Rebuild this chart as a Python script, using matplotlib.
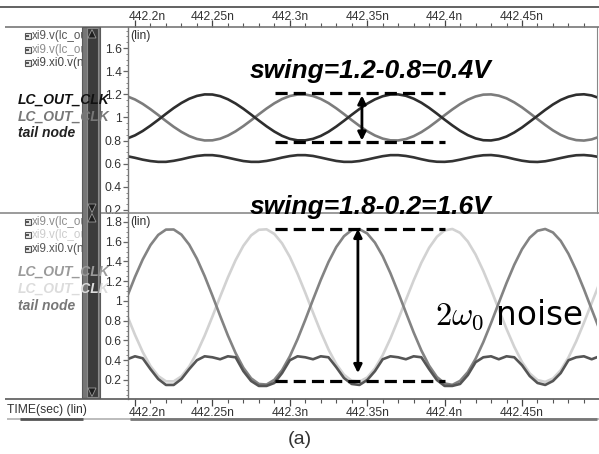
import numpy as np
import matplotlib
matplotlib.use("Agg")
import matplotlib.pyplot as plt
from matplotlib.patches import Rectangle, Polygon
from matplotlib.ticker import FixedLocator
from matplotlib.transforms import ScaledTranslation

plt.rcParams['font.family'] = ['Liberation Sans', 'DejaVu Sans']
plt.rcParams['mathtext.fontset'] = 'cm'

W, H, DPI = 599, 454, 100
PT = 72.0 / DPI  # points per pixel

# ---------------- data ----------------
TIME_NS = [round(442.195 + 0.005 * k, 3) for k in range(62)]

TOP_CLK_P = [0.818, 0.845, 0.883, 0.929, 0.979, 1.031, 1.081, 1.125, 1.161, 1.186,
             1.199, 1.198, 1.184, 1.157, 1.120, 1.075, 1.025, 0.973, 0.923, 0.878,
             0.841, 0.815, 0.802, 0.802, 0.815, 0.840, 0.876, 0.921, 0.971, 1.023,
             1.073, 1.119, 1.156, 1.183, 1.198, 1.199, 1.187, 1.162, 1.127, 1.083,
             1.033, 0.981, 0.931, 0.885, 0.847, 0.819, 0.803, 0.801, 0.812, 0.835,
             0.870, 0.913, 0.963, 1.014, 1.065, 1.112, 1.151, 1.179, 1.196, 1.200,
             1.190, 1.167]
TOP_CLK_N = [1.182, 1.155, 1.117, 1.071, 1.021, 0.969, 0.919, 0.875, 0.839, 0.814,
             0.801, 0.802, 0.816, 0.843, 0.880, 0.925, 0.975, 1.027, 1.077, 1.122,
             1.159, 1.185, 1.198, 1.198, 1.185, 1.160, 1.124, 1.079, 1.029, 0.977,
             0.927, 0.881, 0.844, 0.817, 0.802, 0.801, 0.813, 0.838, 0.873, 0.917,
             0.967, 1.019, 1.069, 1.115, 1.153, 1.181, 1.197, 1.199, 1.188, 1.165,
             1.130, 1.087, 1.037, 0.986, 0.935, 0.888, 0.849, 0.821, 0.804, 0.800,
             0.810, 0.833]
TOP_TAIL = [0.665, 0.651, 0.635, 0.623, 0.616, 0.616, 0.625, 0.638, 0.654, 0.667,
            0.674, 0.674, 0.666, 0.652, 0.637, 0.623, 0.616, 0.616, 0.624, 0.637,
            0.653, 0.666, 0.674, 0.674, 0.667, 0.653, 0.638, 0.624, 0.616, 0.616,
            0.623, 0.636, 0.651, 0.665, 0.674, 0.674, 0.667, 0.655, 0.639, 0.625,
            0.617, 0.616, 0.622, 0.635, 0.650, 0.664, 0.673, 0.675, 0.668, 0.656,
            0.640, 0.626, 0.617, 0.615, 0.621, 0.634, 0.649, 0.663, 0.673, 0.675,
            0.669, 0.657]

BOT_CLK_P = [1.047, 1.244, 1.421, 1.566, 1.669, 1.723, 1.724, 1.672, 1.571, 1.428,
             1.252, 1.055, 0.850, 0.651, 0.472, 0.324, 0.217, 0.160, 0.154, 0.202,
             0.299, 0.439, 0.613, 0.809, 1.014, 1.213, 1.395, 1.546, 1.656, 1.718,
             1.727, 1.684, 1.591, 1.454, 1.282, 1.087, 0.883, 0.682, 0.499, 0.345,
             0.231, 0.165, 0.151, 0.191, 0.280, 0.414, 0.583, 0.776, 0.981, 1.182,
             1.367, 1.524, 1.641, 1.711, 1.729, 1.694, 1.609, 1.478, 1.311, 1.120,
             0.916, 0.714]
BOT_CLK_N = [0.850, 0.657, 0.483, 0.341, 0.240, 0.187, 0.186, 0.237, 0.336, 0.476,
             0.649, 0.842, 1.043, 1.238, 1.414, 1.559, 1.664, 1.721, 1.726, 1.679,
             1.584, 1.447, 1.276, 1.084, 0.883, 0.687, 0.509, 0.361, 0.253, 0.192,
             0.183, 0.225, 0.317, 0.451, 0.620, 0.811, 1.011, 1.208, 1.388, 1.539,
             1.650, 1.715, 1.729, 1.690, 1.602, 1.471, 1.305, 1.116, 0.915, 0.717,
             0.536, 0.382, 0.267, 0.199, 0.181, 0.215, 0.299, 0.427, 0.591, 0.779,
             0.979, 1.177]
BOT_TAIL = [0.41, 0.44, 0.42, 0.31, 0.21, 0.15, 0.15, 0.21, 0.31, 0.40,
            0.44, 0.43, 0.41, 0.44, 0.43, 0.29, 0.19, 0.14, 0.14, 0.17,
            0.27, 0.40, 0.44, 0.43, 0.41, 0.44, 0.43, 0.33, 0.22, 0.16,
            0.15, 0.20, 0.29, 0.41, 0.44, 0.43, 0.41, 0.44, 0.43, 0.31,
            0.20, 0.14, 0.14, 0.16, 0.25, 0.38, 0.43, 0.44, 0.41, 0.44,
            0.43, 0.35, 0.24, 0.17, 0.15, 0.19, 0.27, 0.40, 0.43, 0.44,
            0.41, 0.44]

X_TICKS = [442.2, 442.25, 442.3, 442.35, 442.4, 442.45]
X_TICK_LABELS = ['442.2n', '442.25n', '442.3n', '442.35n', '442.4n', '442.45n']
TOP_Y_TICKS = [0.2, 0.4, 0.6, 0.8, 1.0, 1.2, 1.4, 1.6]
TOP_Y_LABELS = ['0.2', '0.4', '0.6', '0.8', '1', '1.2', '1.4', '1.6']
BOT_Y_TICKS = [0.2, 0.4, 0.6, 0.8, 1.0, 1.2, 1.4, 1.6, 1.8]
BOT_Y_LABELS = ['0.2', '0.4', '0.6', '0.8', '1', '1.2', '1.4', '1.6', '1.8']

TOP_SWING = (1.215, 0.79)
BOT_SWING = (1.73, 0.185)
SWING_SPAN_NS = (442.2904, 442.4003)

SIGNAL_NAMES = ['xi9.v(lc_ou', 'xi9.v(lc_ou', 'xi9.xi0.v(n']
LABELS = ['LC_OUT_CLK', 'LC_OUT_CLK', 'tail node']

# ---------------- figure ----------------
fig = plt.figure(figsize=(W / DPI, H / DPI), dpi=DPI)
fig.patch.set_facecolor('white')


def fr(x0, y0, x1, y1):
    return [x0 / W, 1 - y1 / H, (x1 - x0) / W, (y1 - y0) / H]


ax_top = fig.add_axes(fr(128, 27, 597, 213))
ax_bot = fig.add_axes(fr(128, 213, 597, 399))

XLIM = (442.19548, 442.49845)

for ax, yl, yt, ytl in [(ax_top, (0.174, 1.7815), TOP_Y_TICKS, TOP_Y_LABELS),
                        (ax_bot, (0.0076, 1.891), BOT_Y_TICKS, BOT_Y_LABELS)]:
    ax.set_xlim(*XLIM)
    ax.set_ylim(*yl)
    ax.xaxis.set_major_locator(FixedLocator(X_TICKS))
    ax.set_xticklabels(X_TICK_LABELS)
    ax.xaxis.set_minor_locator(FixedLocator(
        [442.2 + 0.01 * i for i in range(-1, 31)]))
    ax.yaxis.set_major_locator(FixedLocator(yt))
    ax.set_yticklabels(ytl)
    ax.yaxis.set_minor_locator(FixedLocator(
        [0.05 * i for i in range(0, 40)]))
    for s in ax.spines.values():
        s.set_visible(False)
    ax.spines['left'].set_visible(True)
    ax.spines['left'].set_color('#777777')
    ax.spines['left'].set_linewidth(1.0)
    ax.tick_params(axis='y', which='major', direction='out', length=5 * PT,
                   width=0.9, color='#666666', labelsize=8.7,
                   labelcolor='#333333', pad=1.5 * PT)
    ax.tick_params(axis='y', which='minor', direction='out', length=2.5 * PT,
                   width=0.7, color='#888888')
    ax.tick_params(axis='x', which='major', direction='out', length=7 * PT,
                   width=0.9, color='#444444', labelsize=8.7,
                   labelcolor='#333333', pad=1 * PT)
    ax.tick_params(axis='x', which='minor', direction='out', length=4 * PT,
                   width=0.8, color='#555555')

ax_top.xaxis.tick_top()
ax_top.xaxis.set_tick_params(which='both', top=True, bottom=False,
                             labeltop=True, labelbottom=False)
ax_top.spines['right'].set_visible(True)
ax_top.spines['right'].set_color('#888888')
ax_bot.xaxis.tick_bottom()

# first time label is clamped inside the plot by the viewer; top labels sit
# slightly lower, touching the major ticks
for ax, dy in ((ax_top, -4), (ax_bot, 0)):
    for i, lab in enumerate(ax.get_xticklabels()):
        dx = 12 if i == 0 else 0
        lab.set_transform(lab.get_transform() +
                          ScaledTranslation(dx / DPI, dy / DPI,
                                            fig.dpi_scale_trans))

# traces
LW = 1.9
ax_top.plot(TIME_NS, TOP_CLK_N, color='#7c7c7c', lw=LW, solid_joinstyle='round')
ax_top.plot(TIME_NS, TOP_CLK_P, color='#2e2e2e', lw=LW, solid_joinstyle='round')
ax_top.plot(TIME_NS, TOP_TAIL, color='#333333', lw=LW, solid_joinstyle='round')

ax_bot.plot(TIME_NS, BOT_CLK_N, color='#d2d2d2', lw=LW, solid_joinstyle='round')
ax_bot.plot(TIME_NS, BOT_CLK_P, color='#838383', lw=LW, solid_joinstyle='round')
ax_bot.plot(TIME_NS, BOT_TAIL, color='#555555', lw=LW, solid_joinstyle='round')

# swing markers
for ax, (hi, lo), t_arrow, a_hi, a_lo in [
        (ax_top, TOP_SWING, 442.3466, 1.19, 0.80),
        (ax_bot, BOT_SWING, 442.3440, 1.73, 0.27)]:
    for yv in (hi, lo):
        ax.plot(SWING_SPAN_NS, [yv, yv], color='black', lw=2.3,
                linestyle=(0, (3.8, 1.9)), clip_on=False, zorder=4)
    ax.annotate('', xy=(t_arrow, a_hi), xytext=(t_arrow, a_lo),
                arrowprops=dict(arrowstyle='<|-|>', lw=2.0, color='black',
                                mutation_scale=12, shrinkA=0, shrinkB=0),
                zorder=5)

# ---------------- overlay (viewer chrome, pixel coordinates) ----------------
ov = fig.add_axes([0, 0, 1, 1], zorder=5)
ov.set_xlim(0, W)
ov.set_ylim(H, 0)
ov.axis('off')
ov.patch.set_visible(False)


def hline(x0, x1, y, c, lw, z=2):
    ov.plot([x0, x1], [y, y], color=c, lw=lw, solid_capstyle='butt', zorder=z)


hline(0, 599, 6.5, '#555555', 1.3)
hline(5, 599, 26.5, '#777777', 1.2)
hline(0, 599, 213, '#8a8a8a', 1.2)
hline(5, 599, 398.5, '#666666', 1.3)
hline(7, 599, 418.5, '#b0b0b0', 1.2)
hline(20, 83, 418.8, '#555555', 2.0)
hline(130, 597, 418.8, '#777777', 2.0)

# small signal-name rows
name_rows = [(36, '#555555'), (50, '#8c8c8c'), (63, '#444444'),
             (222, '#8c8c8c'), (235, '#cccccc'), (249, '#555555')]
for i, (yy, c) in enumerate(name_rows):
    ov.add_patch(Rectangle((24.5, yy - 3), 6, 6, facecolor='#e6e6e6',
                           edgecolor='#555555', lw=0.8, zorder=3))
    ov.add_patch(Rectangle((26.3, yy - 1.2), 2.4, 2.4, facecolor='#555555',
                           edgecolor='none', zorder=3))
    ov.text(32, yy, SIGNAL_NAMES[i % 3], fontsize=8.4, color=c, va='center',
            ha='left', zorder=3)

# scrollbar
ov.add_patch(Rectangle((82, 27), 18, 371, facecolor='#767676',
                       edgecolor='#5a5a5a', lw=0.8, zorder=6))
ov.add_patch(Rectangle((86.5, 28), 11, 369, facecolor='#3b3b3b',
                       edgecolor='#8a8a8a', lw=0.8, zorder=7))
tri_c = '#1e1e1e'
for pts in ([(88, 38), (96, 38), (92, 29.5)],
            [(88, 204), (96, 204), (92, 212.5)],
            [(88, 222), (96, 222), (92, 213.5)],
            [(88, 388), (96, 388), (92, 396.5)]):
    ov.add_patch(Polygon(pts, closed=True, facecolor=tri_c,
                         edgecolor='#9a9a9a', lw=0.6, zorder=8))

# waveform labels (drawn over the scrollbar, as in the viewer)
lab_style = dict(fontsize=10, fontweight='bold', fontstyle='italic',
                 va='center', ha='left', zorder=20)
for (yy, c), txt in zip([(100, '#111111'), (117, '#777777'), (133, '#222222')],
                        LABELS):
    ov.text(18, yy, txt, color=c, **lab_style)
for (yy, c), txt in zip([(272, '#9a9a9a'), (288.5, '#dcdcdc'), (306, '#777777')],
                        LABELS):
    ov.text(18, yy, txt, color=c, **lab_style)

ov.text(130, 36, '(lin)', fontsize=8.7, color='#333333', va='center',
        ha='left', zorder=9)
ov.text(130, 222, '(lin)', fontsize=8.7, color='#333333', va='center',
        ha='left', zorder=9)
ov.text(7, 410.5, 'TIME(sec) (lin)', fontsize=8.7, color='#333333',
        va='center', ha='left', zorder=9)
ov.text(300, 439, '(a)', fontsize=14, color='#333333', va='center',
        ha='center', zorder=9)

swing_style = dict(fontsize=19, fontweight='bold', fontstyle='italic',
                   color='black', va='baseline', ha='left', zorder=12)
ov.text(250, 78, 'swing=1.2-0.8=0.4V', **swing_style)
ov.text(250, 214, 'swing=1.8-0.2=1.6V', **swing_style)

ov.text(435, 324, r'$2\omega_0$ noise', fontsize=23.5, color='black',
        family='DejaVu Sans', va='baseline', ha='left', zorder=12)

fig.savefig('out.png', dpi=DPI, facecolor='white')
